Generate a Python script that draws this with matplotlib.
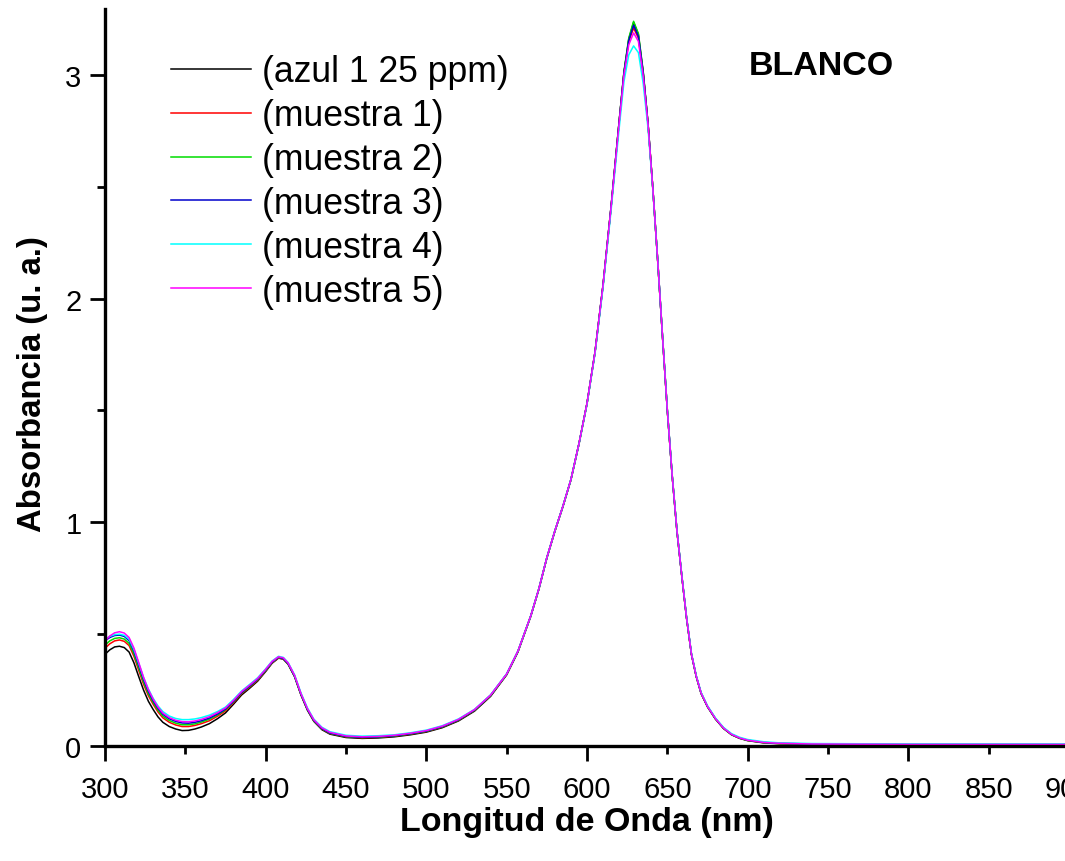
import matplotlib
matplotlib.use("Agg")
import matplotlib.pyplot as plt

plt.rcParams['font.family'] = ['Liberation Sans', 'DejaVu Sans']

wavelength = [300, 303, 306, 309, 312, 315, 318, 321, 324, 327, 330, 333, 336, 340, 344, 348,
              352, 356, 360, 365, 370, 375, 380, 385, 390, 395, 400, 404, 408, 411, 414, 418,
              422, 426, 430, 435, 440, 450, 460, 470, 480, 490, 500, 510, 520, 530, 540, 550,
              557, 565, 570, 575, 580, 585, 590, 595, 600, 605, 610, 615, 620, 623, 626, 629,
              632, 635, 638, 641, 644, 647, 650, 653, 656, 659, 662, 665, 668, 671, 675, 680,
              685, 690, 695, 700, 710, 720, 740, 770, 800, 850, 900]

azul = [0.410, 0.430, 0.443, 0.446, 0.440, 0.420, 0.372, 0.310, 0.250, 0.200, 0.163, 0.130, 0.106, 0.087, 0.076, 0.069,
        0.070, 0.076, 0.085, 0.100, 0.122, 0.148, 0.187, 0.228, 0.258, 0.290, 0.333, 0.370, 0.393, 0.388, 0.365, 0.310,
        0.228, 0.160, 0.110, 0.073, 0.053, 0.038, 0.034, 0.036, 0.041, 0.050, 0.062, 0.082, 0.112, 0.156, 0.222, 0.318,
        0.420, 0.580, 0.700, 0.840, 0.960, 1.070, 1.190, 1.350, 1.530, 1.760, 2.060, 2.410, 2.790, 3.010, 3.160, 3.235,
        3.180, 3.010, 2.780, 2.490, 2.170, 1.830, 1.500, 1.210, 0.960, 0.760, 0.570, 0.410, 0.310, 0.235, 0.175, 0.120,
        0.078, 0.050, 0.034, 0.024, 0.014, 0.010, 0.007, 0.006, 0.005, 0.005, 0.005]

muestra1 = [0.437, 0.457, 0.470, 0.474, 0.468, 0.449, 0.401, 0.338, 0.276, 0.225, 0.186, 0.152, 0.126, 0.106, 0.094, 0.087,
            0.087, 0.092, 0.100, 0.113, 0.133, 0.157, 0.194, 0.234, 0.263, 0.294, 0.336, 0.372, 0.394, 0.389, 0.366, 0.311,
            0.229, 0.162, 0.112, 0.076, 0.056, 0.041, 0.037, 0.039, 0.044, 0.053, 0.065, 0.085, 0.115, 0.159, 0.225, 0.320,
            0.422, 0.581, 0.701, 0.841, 0.961, 1.071, 1.191, 1.351, 1.531, 1.761, 2.061, 2.411, 2.790, 3.008, 3.150, 3.210,
            3.165, 3.005, 2.780, 2.490, 2.170, 1.830, 1.500, 1.210, 0.960, 0.760, 0.570, 0.410, 0.311, 0.236, 0.176, 0.121,
            0.079, 0.051, 0.035, 0.025, 0.015, 0.011, 0.008, 0.007, 0.006, 0.006, 0.006]

muestra2 = [0.451, 0.470, 0.481, 0.484, 0.478, 0.459, 0.412, 0.349, 0.286, 0.234, 0.194, 0.160, 0.134, 0.114, 0.102, 0.095,
            0.095, 0.099, 0.107, 0.120, 0.139, 0.162, 0.198, 0.237, 0.266, 0.297, 0.338, 0.374, 0.396, 0.390, 0.367, 0.312,
            0.230, 0.163, 0.113, 0.077, 0.057, 0.042, 0.038, 0.040, 0.045, 0.054, 0.066, 0.086, 0.116, 0.160, 0.226, 0.321,
            0.423, 0.581, 0.701, 0.841, 0.961, 1.071, 1.191, 1.351, 1.531, 1.761, 2.061, 2.411, 2.792, 3.015, 3.165, 3.240,
            3.185, 3.015, 2.782, 2.491, 2.171, 1.831, 1.501, 1.211, 0.961, 0.761, 0.571, 0.411, 0.311, 0.236, 0.176, 0.121,
            0.079, 0.051, 0.035, 0.025, 0.015, 0.011, 0.008, 0.007, 0.006, 0.006, 0.006]

muestra3 = [0.471, 0.485, 0.494, 0.496, 0.490, 0.471, 0.424, 0.361, 0.297, 0.244, 0.202, 0.168, 0.142, 0.122, 0.110, 0.103,
            0.102, 0.106, 0.113, 0.125, 0.143, 0.165, 0.200, 0.239, 0.268, 0.299, 0.340, 0.375, 0.397, 0.391, 0.368, 0.313,
            0.231, 0.164, 0.114, 0.078, 0.058, 0.043, 0.039, 0.041, 0.046, 0.055, 0.067, 0.087, 0.117, 0.161, 0.227, 0.322,
            0.424, 0.582, 0.702, 0.842, 0.962, 1.072, 1.192, 1.352, 1.532, 1.762, 2.062, 2.412, 2.790, 3.010, 3.155, 3.222,
            3.172, 3.008, 2.781, 2.491, 2.171, 1.831, 1.501, 1.211, 0.961, 0.761, 0.571, 0.411, 0.312, 0.237, 0.177, 0.122,
            0.080, 0.052, 0.036, 0.026, 0.016, 0.012, 0.009, 0.008, 0.007, 0.007, 0.007]

muestra4 = [0.478, 0.490, 0.498, 0.500, 0.495, 0.477, 0.432, 0.370, 0.307, 0.255, 0.213, 0.179, 0.154, 0.134, 0.123, 0.118,
            0.118, 0.121, 0.127, 0.138, 0.154, 0.174, 0.208, 0.246, 0.275, 0.305, 0.345, 0.380, 0.401, 0.396, 0.373, 0.318,
            0.237, 0.170, 0.120, 0.084, 0.064, 0.048, 0.044, 0.046, 0.050, 0.059, 0.071, 0.091, 0.121, 0.164, 0.229, 0.323,
            0.424, 0.582, 0.702, 0.842, 0.962, 1.072, 1.192, 1.350, 1.528, 1.755, 2.050, 2.395, 2.760, 2.970, 3.090, 3.130,
            3.100, 2.960, 2.760, 2.485, 2.172, 1.835, 1.505, 1.215, 0.965, 0.765, 0.575, 0.415, 0.315, 0.240, 0.180, 0.125,
            0.083, 0.055, 0.039, 0.029, 0.019, 0.014, 0.011, 0.010, 0.009, 0.009, 0.009]

muestra5 = [0.470, 0.492, 0.506, 0.511, 0.505, 0.485, 0.438, 0.373, 0.307, 0.252, 0.209, 0.174, 0.147, 0.127, 0.115, 0.109,
            0.108, 0.112, 0.119, 0.131, 0.149, 0.170, 0.204, 0.243, 0.272, 0.302, 0.343, 0.378, 0.399, 0.394, 0.371, 0.316,
            0.234, 0.167, 0.117, 0.081, 0.061, 0.045, 0.041, 0.043, 0.048, 0.057, 0.069, 0.089, 0.119, 0.163, 0.228, 0.322,
            0.424, 0.582, 0.702, 0.842, 0.962, 1.072, 1.192, 1.352, 1.532, 1.762, 2.062, 2.410, 2.785, 3.000, 3.135, 3.188,
            3.150, 2.995, 2.778, 2.490, 2.171, 1.831, 1.501, 1.211, 0.961, 0.761, 0.571, 0.411, 0.312, 0.237, 0.177, 0.122,
            0.080, 0.052, 0.036, 0.026, 0.016, 0.012, 0.009, 0.008, 0.007, 0.007, 0.007]

series_labels = ["(azul 1 25 ppm)", "(muestra 1)", "(muestra 2)", "(muestra 3)", "(muestra 4)", "(muestra 5)"]
series_values = [azul, muestra1, muestra2, muestra3, muestra4, muestra5]
series_colors = ["#000000", "#FF0000", "#00DD00", "#0000CC", "#00FFFF", "#FF00FF"]

major_x = [300, 400, 500, 600, 700, 800, 900]
minor_x = [350, 450, 550, 650, 750, 850]

fig = plt.figure(figsize=(10.65, 8.62), dpi=100)
ax = fig.add_axes([105 / 1065, 115 / 862, 964 / 1065, 737 / 862])

for vals, lab, col in zip(series_values, series_labels, series_colors):
    ax.plot(wavelength, vals, color=col, lw=1.1, label=lab)

ax.set_xlim(300, 900)
ax.set_ylim(0, 3.295)

ax.set_xticks(major_x)
ax.set_xticks(minor_x, minor=True)
ax.set_xticklabels([str(v) for v in major_x])
ax.set_xticklabels([str(v) for v in minor_x], minor=True)
ax.set_yticks([0, 1, 2, 3])
ax.set_yticks([0.5, 1.5, 2.5], minor=True)

ax.tick_params(which='major', direction='out', length=11, width=2.0, labelsize=21)
ax.tick_params(which='minor', direction='out', length=6, width=2.0, labelsize=21)
ax.tick_params(axis='x', which='major', pad=10)
ax.tick_params(axis='x', which='minor', pad=15)
ax.tick_params(axis='y', which='major', pad=6)

for s in ['top', 'right']:
    ax.spines[s].set_visible(False)
for s in ['left', 'bottom']:
    ax.spines[s].set_linewidth(2.4)

ax.set_xlabel("Longitud de Onda (nm)", fontsize=24.5, fontweight='bold', labelpad=2)
ax.set_ylabel("Absorbancia (u. a.)", fontsize=23.7, fontweight='bold')
ax.yaxis.set_label_coords(-0.0592, 0.4925)

ax.text(746, 3.044, "BLANCO", fontsize=24.5, fontweight='bold', ha='center', va='center')

leg = ax.legend(loc='upper left', bbox_to_anchor=(0.054, 0.958), frameon=False, fontsize=25.6,
                handlelength=2.25, handletextpad=0.3, labelspacing=0.25, borderaxespad=0)
for line in leg.get_lines():
    line.set_linewidth(1.1)

fig.savefig("out.png", dpi=100)
